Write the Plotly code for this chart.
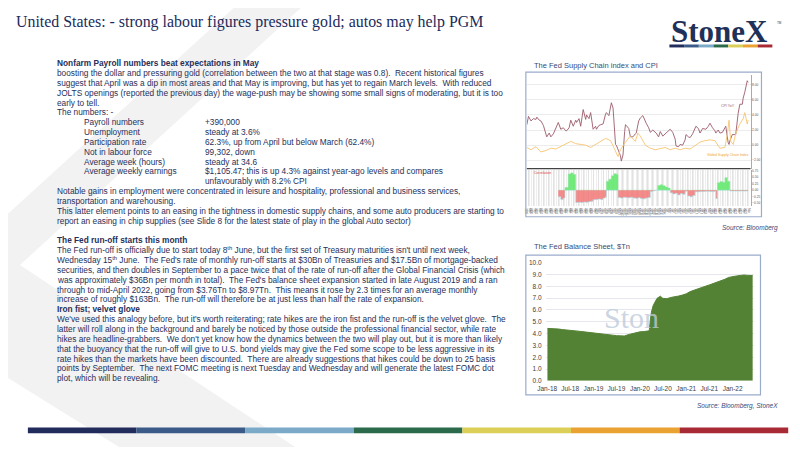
import plotly.graph_objects as go

# ---- Fed balance sheet, $Tn (monthly) ----
bs_dates = ["2018-01-03", "2018-02-01", "2018-03-01", "2018-04-01", "2018-05-01", "2018-06-01",
            "2018-07-01", "2018-08-01", "2018-09-01", "2018-10-01", "2018-11-01", "2018-12-01",
            "2019-01-01", "2019-02-01", "2019-03-01", "2019-04-01", "2019-05-01", "2019-06-01",
            "2019-07-01", "2019-08-01", "2019-09-01", "2019-10-01", "2019-11-01", "2019-12-01",
            "2020-01-01", "2020-02-01", "2020-03-01", "2020-03-15", "2020-03-25", "2020-04-01",
            "2020-04-15", "2020-05-01", "2020-05-15", "2020-06-01", "2020-06-10", "2020-07-01",
            "2020-08-01", "2020-09-01", "2020-10-01", "2020-11-01", "2020-12-01",
            "2021-01-01", "2021-02-01", "2021-03-01", "2021-04-01", "2021-05-01", "2021-06-01",
            "2021-07-01", "2021-08-01", "2021-09-01", "2021-10-01", "2021-11-01", "2021-12-01",
            "2022-01-01", "2022-02-01", "2022-03-01", "2022-04-01", "2022-05-01", "2022-06-08"]
bs_values = [4.44, 4.44, 4.41, 4.39, 4.34, 4.32, 4.29, 4.25, 4.21, 4.17, 4.14, 4.08,
             4.06, 4.01, 3.97, 3.93, 3.91, 3.87, 3.83, 3.80, 3.80, 3.91, 4.00, 4.10,
             4.15, 4.17, 4.20, 4.24, 5.25, 5.80, 6.37, 6.65, 6.98, 7.10, 7.17, 6.98,
             6.96, 7.06, 7.15, 7.18, 7.26,
             7.37, 7.56, 7.65, 7.76, 7.86, 8.01, 8.12, 8.23, 8.39, 8.50, 8.60, 8.76,
             8.79, 8.88, 8.92, 8.96, 8.93, 8.91]

# ---- US CPI YoY, % ----
cpi_dates = ["2000-01", "2000-03", "2000-06", "2000-09", "2000-12", "2001-01", "2001-04", "2001-06",
             "2001-09", "2001-12", "2002-01", "2002-04", "2002-06", "2002-09", "2002-12", "2003-01",
             "2003-03", "2003-06", "2003-09", "2003-12", "2004-01", "2004-04", "2004-06", "2004-09",
             "2004-12", "2005-01", "2005-04", "2005-06", "2005-09", "2005-12", "2006-01", "2006-04",
             "2006-06", "2006-09", "2006-12", "2007-01", "2007-04", "2007-06", "2007-09", "2007-12",
             "2008-01", "2008-04", "2008-06", "2008-07", "2008-09", "2008-11", "2008-12", "2009-01",
             "2009-04", "2009-06", "2009-07", "2009-09", "2009-11", "2009-12", "2010-01", "2010-04",
             "2010-06", "2010-09", "2010-12", "2011-01", "2011-04", "2011-06", "2011-09", "2011-12",
             "2012-01", "2012-04", "2012-06", "2012-09", "2012-12", "2013-01", "2013-04", "2013-06",
             "2013-09", "2013-12", "2014-01", "2014-04", "2014-06", "2014-09", "2014-12", "2015-01",
             "2015-04", "2015-06", "2015-09", "2015-12", "2016-01", "2016-04", "2016-06", "2016-09",
             "2016-12", "2017-01", "2017-04", "2017-06", "2017-09", "2017-12", "2018-01", "2018-04",
             "2018-06", "2018-09", "2018-12", "2019-01", "2019-04", "2019-06", "2019-09", "2019-12",
             "2020-01", "2020-04", "2020-05", "2020-06", "2020-09", "2020-12", "2021-01", "2021-04",
             "2021-05", "2021-06", "2021-09", "2021-10", "2021-12", "2022-01", "2022-02", "2022-03",
             "2022-04"]
cpi_values = [2.7, 3.8, 3.2, 3.5, 3.4, 3.7, 3.3, 3.2, 2.6, 1.6, 1.1, 1.6, 1.1, 1.5, 2.4, 2.6,
              3.0, 2.1, 2.3, 1.9, 1.9, 2.3, 3.3, 2.5, 3.3, 3.0, 3.5, 2.5, 4.7, 3.4, 4.0, 3.5,
              4.3, 2.1, 2.5, 2.1, 2.6, 2.7, 2.8, 4.1, 4.3, 3.9, 5.0, 5.6, 4.9, 1.1, 0.1, 0.0,
              -0.7, -1.4, -2.1, -1.3, 1.8, 2.7, 2.6, 2.2, 1.1, 1.1, 1.5, 1.6, 3.2, 3.6, 3.9, 3.0,
              2.9, 2.3, 1.7, 2.0, 1.7, 1.6, 1.1, 1.8, 1.2, 1.5, 1.6, 2.0, 2.1, 1.7, 0.8, -0.1,
              -0.2, 0.1, 0.0, 0.7, 1.4, 1.1, 1.0, 1.5, 2.1, 2.5, 2.2, 1.6, 2.2, 2.1, 2.1, 2.5,
              2.9, 2.3, 1.9, 1.6, 2.0, 1.6, 1.7, 2.3, 2.5, 0.3, 0.1, 0.6, 1.4, 1.4, 1.4, 4.2,
              5.0, 5.4, 5.4, 6.2, 7.0, 7.5, 7.9, 8.5, 8.3]

# ---- Global supply chain pressure index ----
gscpi_dates = ["2000-01", "2000-06", "2000-12", "2001-06", "2001-12", "2002-06", "2002-12", "2003-06",
               "2003-12", "2004-03", "2004-06", "2004-12", "2005-06", "2005-12", "2006-06", "2006-12",
               "2007-06", "2007-12", "2008-06", "2008-12", "2009-03", "2009-06", "2009-12", "2010-06",
               "2010-12", "2011-03", "2011-06", "2011-12", "2012-06", "2012-12", "2013-06", "2013-12",
               "2014-06", "2014-12", "2015-06", "2015-12", "2016-06", "2016-12", "2017-06", "2017-12",
               "2018-06", "2018-12", "2019-06", "2019-12", "2020-03", "2020-05", "2020-07", "2020-10",
               "2021-01", "2021-06", "2021-10", "2021-12", "2022-02", "2022-03", "2022-04"]
gscpi_values = [-0.3, -0.6, -0.2, -0.9, -0.7, -0.4, -0.5, -0.2, 0.2, 0.3, 0.5, 0.2, 0.1, 0.0,
                -0.3, 0.1, 0.5, 0.9, 0.6, -0.8, -1.5, -0.6, 0.4, 1.2, 0.5, 1.6, 1.2, 0.0,
                -0.4, -0.6, -0.5, -0.3, -0.6, -0.4, -0.6, -0.4, -0.5, -0.1, 0.4, 0.6, 0.7, 0.6,
                -0.4, -0.3, 1.5, 3.3, 0.5, 0.1, 1.5, 2.8, 3.5, 4.3, 3.0, 2.8, 3.3]

# ---- correlation (lower panel) ----
corr_dates = ["2003-03", "2003-06", "2003-09", "2003-11", "2004-03", "2004-06", "2004-09", "2004-12",
              "2005-03", "2005-06", "2005-09", "2005-12", "2006-03", "2006-06", "2006-09", "2006-12",
              "2007-03", "2007-06", "2007-09", "2007-12", "2008-01", "2008-04", "2008-07", "2008-10",
              "2009-01", "2009-03", "2009-06", "2009-09", "2009-12", "2010-03", "2010-06", "2010-09",
              "2010-12", "2011-03", "2011-06", "2011-09", "2011-12", "2012-03", "2012-06", "2012-09",
              "2012-12", "2013-03", "2013-06", "2013-09", "2013-12", "2014-03", "2014-06", "2014-09",
              "2014-12", "2015-03", "2015-06", "2015-09", "2015-12", "2016-03", "2016-06", "2016-09",
              "2016-12", "2017-06", "2017-12", "2018-06", "2018-12", "2019-01", "2019-03", "2019-06",
              "2019-09", "2019-12", "2020-03", "2020-06", "2020-12", "2021-06", "2021-12", "2022-04"]
corr_values = [-0.25, -0.35, -0.30, 0.10, 0.62, 0.66, 0.60, -0.47, -0.46, -0.47, -0.45, -0.46,
               -0.44, -0.42, -0.36, -0.35, -0.34, -0.35, -0.30, -0.25, 0.34, 0.42, 0.55, 0.63,
               0.60, -0.28, -0.30, -0.27, -0.28, -0.29, -0.27, -0.30, -0.31, -0.29, -0.32, -0.33,
               -0.30, -0.28, -0.05, -0.02, 0.0, 0.18, 0.21, 0.17, 0.12, 0.08, -0.10, -0.14,
               -0.12, -0.18, -0.13, -0.15, -0.04, -0.22, -0.25, -0.20, -0.06, -0.05, -0.04, -0.05,
               -0.04, -0.32, 0.28, 0.33, 0.30, 0.48, 0.34, -0.03, -0.03, -0.03, -0.03, -0.03]

# ---- slide text ----
title = "United States: - strong labour figures pressure gold; autos may help PGM"
body_lines = [
    "<b>Nonfarm Payroll numbers beat expectations in May</b>",
    "boosting the dollar and pressuring gold (correlation between the two at that stage was 0.8).  Recent historical figures",
    "suggest that April was a dip in most areas and that May is improving, but has yet to regain March levels.  With reduced",
    "JOLTS openings (reported the previous day) the wage-push may be showing some small signs of moderating, but it is too",
    "early to tell.",
    "The numbers: -",
    None, None, None, None, None, None, None,
    "Notable gains in employment were concentrated in leisure and hospitality, professional and business services,",
    "transportation and warehousing.",
    "This latter element points to an easing in the tightness in domestic supply chains, and some auto producers are starting to",
    "report an easing in chip supplies (see Slide 8 for the latest state of play in the global Auto sector)",
    "",
    "<b>The Fed run-off starts this month</b>",
    "The Fed run-off is officially due to start today 8<sup>th</sup> June, but the first set of Treasury maturities isn't until next week,",
    "Wednesday 15<sup>th</sup> June.  The Fed's rate of monthly run-off starts at $30Bn of Treasuries and $17.5Bn of mortgage-backed",
    "securities, and then doubles in September to a pace twice that of the rate of run-off after the Global Financial Crisis (which",
    "was approximately $36Bn per month in total).  The Fed's balance sheet expansion started in late August 2019 and a ran",
    "through to mid-April 2022, going from $3.76Tn to $8.97Tn.  This means it rose by 2.3 times for an average monthly",
    "increase of roughly $163Bn.  The run-off will therefore be at just less than half the rate of expansion.",
    "<b>Iron fist; velvet glove</b>",
    "We've used this analogy before, but it's worth reiterating; rate hikes are the iron fist and the run-off is the velvet glove.  The",
    "latter will roll along in the background and barely be noticed by those outside the professional financial sector, while rate",
    "hikes are headline-grabbers.  We don't yet know how the dynamics between the two will play out, but it is more than likely",
    "that the buoyancy that the run-off will give to U.S. bond yields may give the Fed some scope to be less aggressive in its",
    "rate hikes than the markets have been discounted.  There are already suggestions that hikes could be down to 25 basis",
    "points by September.  The next FOMC meeting is next Tuesday and Wednesday and will generate the latest FOMC dot",
    "plot, which will be revealing.",
]
table_labels = ["Payroll numbers", "Unemployment", "Participation rate", "Not in labour force",
                "Average week (hours)", "Average weekly earnings", ""]
table_values = ["+390,000", "steady at 3.6%", "62.3%, up from April but below March (62.4%)",
                "99,302, down", "steady at 34.6",
                "$1,105.47; this is up 4.3% against year-ago levels and compares",
                "unfavourably with 8.2% CPI"]

brand_colors = ["#222c5c", "#3a5a87", "#7aaac8", "#2b6b4c", "#dccf58", "#eaa232", "#a82a35"]

W, H = 800, 450
OFF = 8  # the page puts the plot 8px in from the window corner
TXT = "#26305a"


def X(px):
    return (px - OFF) / W


def Y(py):
    return 1 - (py - OFF) / H


fig = go.Figure()

# supply chain panel
fig.add_trace(go.Scatter(x=cpi_dates, y=cpi_values, mode="lines", line=dict(color="#9c5a6a", width=0.9),
                         xaxis="x", yaxis="y", hoverinfo="skip"))
fig.add_trace(go.Scatter(x=gscpi_dates, y=gscpi_values, mode="lines", line=dict(color="#f7c472", width=0.9),
                         xaxis="x", yaxis="y", hoverinfo="skip"))
corr_pos = [v if v > 0 else 0 for v in corr_values]
corr_neg = [v if v < 0 else 0 for v in corr_values]
fig.add_trace(go.Scatter(x=corr_dates, y=corr_pos, mode="lines", line=dict(color="#8fe6a0", width=0.5, shape="hv"),
                         fill="tozeroy", fillcolor="rgba(100,232,110,0.9)", xaxis="x2", yaxis="y2"))
fig.add_trace(go.Scatter(x=corr_dates, y=corr_neg, mode="lines", line=dict(color="#a9dde6", width=0.6, shape="hv"),
                         fill="tozeroy", fillcolor="rgba(242,120,120,0.85)", xaxis="x2", yaxis="y2"))

# balance sheet
fig.add_trace(go.Scatter(x=bs_dates, y=bs_values, mode="lines", line=dict(color="#548235", width=1),
                         fill="tozeroy", fillcolor="#548235", xaxis="x3", yaxis="y3"))

tiny = dict(family="Liberation Sans", size=3.2, color="#555555")
small = dict(family="Liberation Sans", size=6.5, color="#404040")

fig.update_layout(
    width=W, height=H, autosize=False, showlegend=False,
    margin=dict(l=0, r=0, t=0, b=0),
    paper_bgcolor="white", plot_bgcolor="white",
    xaxis=dict(domain=[X(524), X(750)], anchor="y", type="date", range=["2000-01-01", "2022-07-01"],
               showticklabels=False, showgrid=False, zeroline=False),
    yaxis=dict(domain=[Y(167), Y(72)], anchor="x", side="right", range=[-3.08, 9.26],
               tickvals=[-2, 0, 2, 4, 6, 8], tickformat=".2f", tickfont=tiny, ticks="",
               gridcolor="#ececec", gridwidth=0.6, zeroline=False, showline=True, linecolor="#aaaaaa", linewidth=0.8),
    xaxis2=dict(domain=[X(524), X(750)], anchor="y2", type="date", matches="x",
                dtick="M6", tick0="2000-03-01", tickformat="%b<br>%Y",
                tickfont=dict(family="Liberation Sans", size=2.6, color="#555"),
                showgrid=True, gridcolor="#e2e2e2", gridwidth=0.5,
                minor=dict(dtick="M3", showgrid=True, gridcolor="#eeeeee", gridwidth=0.4), zeroline=False),
    yaxis2=dict(domain=[Y(205), Y(168)], anchor="x2", side="right", range=[-0.6, 0.79],
                tickvals=[-0.5, -0.25, 0, 0.25, 0.5, 0.75], tickformat=".2f", tickfont=tiny,
                showgrid=False, zeroline=False, showline=True, linecolor="#aaaaaa", linewidth=0.8),
    xaxis3=dict(domain=[X(543), X(753)], anchor="y3", type="date", range=["2017-12-20", "2022-06-15"],
                dtick="M6", tick0="2018-01-01", tickformat="%b-%y", tickfont=small, showgrid=False,
                zeroline=False, ticks="", ticklabelstandoff=3),
    yaxis3=dict(domain=[Y(382.7), Y(262.7)], anchor="x3", range=[0, 10], dtick=1, tickformat=".1f",
                tickfont=small, gridcolor="#e6e6ee", gridwidth=0.8, zeroline=False, ticks="",
                ticklabelstandoff=3),
)

shapes = []
# background chevron
shapes.append(dict(type="path", xref="paper", yref="paper", layer="below", line=dict(width=0),
                   fillcolor="#f2f2f2",
                   path="M {} {} L {} {} L {} {} L {} {} L {} {} L {} {} Z".format(
                       X(232), Y(0), X(300), Y(0), X(12), Y(265), X(290), Y(450), X(112), Y(450), X(-108), Y(312))))
# chart frames
shapes.append(dict(type="rect", xref="paper", yref="paper", x0=X(523), x1=X(761), y0=Y(216), y1=Y(69),
                   line=dict(color="#9aaccc", width=1.2)))
shapes.append(dict(type="rect", xref="paper", yref="paper", x0=X(523), x1=X(760), y0=Y(397), y1=Y(255),
                   line=dict(color="#9aaccc", width=1.2)))
shapes.append(dict(type="line", xref="paper", yref="paper", x0=X(524), x1=X(750), y0=Y(167), y1=Y(167),
                   line=dict(color="#444444", width=1.2)))
# logo bar and footer bar
for i, c in enumerate(brand_colors):
    shapes.append(dict(type="rect", xref="paper", yref="paper", line=dict(width=0), fillcolor=c,
                       x0=X(668 + i * 104 / 7), x1=X(668 + (i + 1) * 104 / 7), y0=Y(44), y1=Y(41)))
    shapes.append(dict(type="rect", xref="paper", yref="paper", line=dict(width=0), fillcolor=c,
                       x0=X(20 + i * 768 / 7), x1=X(20 + (i + 1) * 768 / 7), y0=Y(436), y1=Y(430)))
fig.update_layout(shapes=shapes)

ann = []


def text(x, y, s, size=8.3, color=TXT, family="Liberation Sans", anchor="left", **kw):
    ann.append(dict(xref="paper", yref="paper", x=X(x), y=Y(y), text=s, showarrow=False,
                    xanchor=anchor, yanchor="middle", align=anchor,
                    font=dict(family=family, size=size, color=color), **kw))


text(6, 18, title, size=15.9, color="#1b2a5a", family="Liberation Serif")
text(668, 28, "<b>StoneX</b>", size=31, color="#1f3158", family="Liberation Serif")
text(775, 19, "TM", size=3, color="#1f3158")

for i, line in enumerate(body_lines):
    if line:
        text(47, 60 + 10 * i, line)
for i, (lab, val) in enumerate(zip(table_labels, table_values)):
    if lab:
        text(75, 120 + 10 * i, lab)
    text(197, 120 + 10 * i, val)

text(529, 62, "The Fed Supply Chain index and CPI", size=7.5, color="#3b4a78")
text(529, 246, "The Fed Balance Sheet, $Tn", size=7.5, color="#3b4a78")
text(780, 227, "<i>Source: Bloomberg</i>", size=6.5, color="#3b4a78", anchor="right")
text(780, 408, "<i>Source: Bloomberg, StoneX</i>", size=6.5, color="#3b4a78", anchor="right")
text(727, 103, "CPI YoY", size=3.5, color="#9c5a6a", anchor="center")
text(727, 153, "Global Supply Chain Index", size=3.5, color="#f0a030", anchor="center")
text(529, 172, "Correlation", size=3.5, color="#e04040")
text(600, 318, "Ston", size=30, color="rgba(190,202,218,0.8)", family="Liberation Serif")
text(640, 213.5, "Copyright\u00a9 2022 Bloomberg Finance L.P.", size=2.6, color="#777777", anchor="center")

fig.update_layout(annotations=ann)

fig.write_html("out.html")
